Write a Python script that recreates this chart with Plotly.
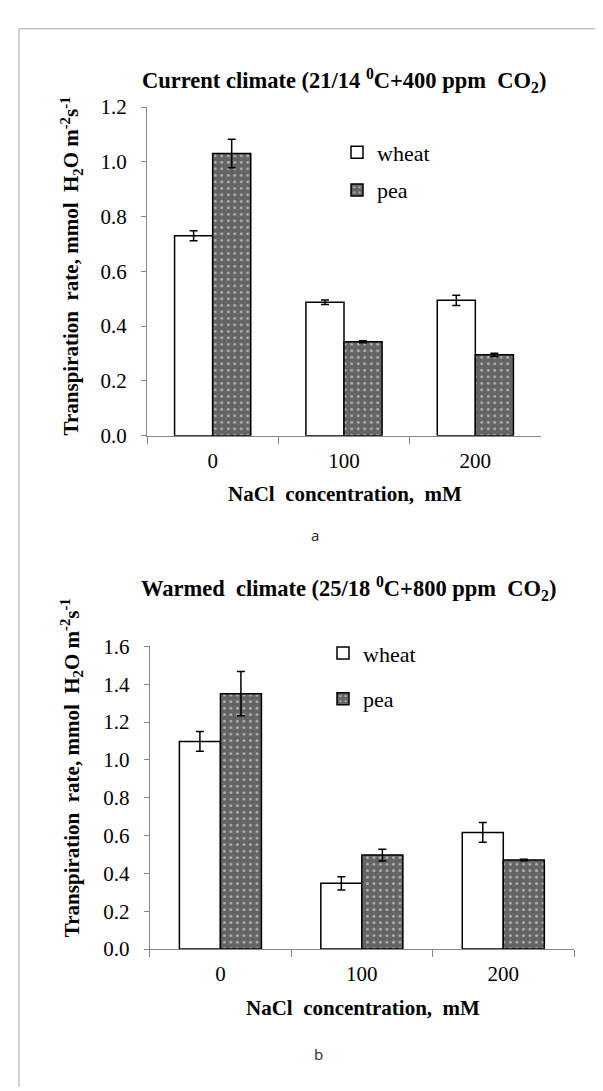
import plotly.graph_objects as go

# ---------------- data ----------------
categories = ["0", "100", "200"]

wheat_current = [0.73, 0.487, 0.494]
wheat_current_err = [0.018, 0.008, 0.019]
pea_current = [1.03, 0.343, 0.295]
pea_current_err = [0.052, 0.004, 0.006]

wheat_warm = [1.098, 0.348, 0.617]
wheat_warm_err = [0.052, 0.035, 0.052]
pea_warm = [1.35, 0.497, 0.471]
pea_warm_err = [0.117, 0.031, 0.004]

series_names = ["wheat", "pea"]
top_title = "Current climate (21/14 <sup>0</sup>C+400 ppm\u00a0\u00a0CO<sub>2</sub>)"
bottom_title = "Warmed\u00a0\u00a0climate (25/18 <sup>0</sup>C+800 ppm\u00a0\u00a0CO<sub>2</sub>)"
y_title = "Transpiration\u00a0\u00a0rate, mmol\u00a0\u00a0H<sub>2</sub>O m<sup>-2</sup>s<sup>-1</sup>"
x_title = "NaCl\u00a0\u00a0concentration,\u00a0\u00a0mM"

# ---------------- layout helpers ----------------
W, H = 603, 1091
def xp(px):
    return px / W
def yp(py):
    return 1 - py / H

SERIF = "Liberation Serif, Times New Roman, serif"
AX = "#868686"

fig = go.Figure()

wheat_style = dict(color="white", line=dict(color="black", width=1.5))
pea_style = dict(color="#666666", line=dict(color="black", width=1.5),
                 pattern=dict(shape=".", fgcolor="white", bgcolor="#646464",
                              size=6.5, solidity=0.16))
err_style = dict(type="data", color="black", thickness=1.5, width=4, visible=True)

# top chart
fig.add_trace(go.Bar(x=categories, y=wheat_current, name=series_names[0],
                     marker=wheat_style, error_y=dict(array=wheat_current_err, **err_style),
                     xaxis="x", yaxis="y", legend="legend", legendgroup="w1"))
fig.add_trace(go.Bar(x=categories, y=pea_current, name=series_names[1],
                     marker=pea_style, error_y=dict(array=pea_current_err, **err_style),
                     xaxis="x", yaxis="y", legend="legend", legendgroup="p1"))
# bottom chart
fig.add_trace(go.Bar(x=categories, y=wheat_warm, name=series_names[0],
                     marker=wheat_style, error_y=dict(array=wheat_warm_err, **err_style),
                     xaxis="x2", yaxis="y2", legend="legend2", legendgroup="w2"))
fig.add_trace(go.Bar(x=categories, y=pea_warm, name=series_names[1],
                     marker=pea_style, error_y=dict(array=pea_warm_err, **err_style),
                     xaxis="x2", yaxis="y2", legend="legend2", legendgroup="p2"))

xcommon = dict(type="category", showline=True, linecolor=AX, linewidth=1.2,
               ticks="outside", tickson="boundaries", ticklen=7, tickcolor=AX,
               tickwidth=1.2, showgrid=False, zeroline=False,
               tickfont=dict(family=SERIF, size=21, color="black"),
               ticklabelstandoff=6)
ycommon = dict(showline=True, linecolor=AX, linewidth=1.2, ticks="outside",
               ticklen=5, tickcolor=AX, tickwidth=1.2, showgrid=False,
               zeroline=False, tickformat=".1f", dtick=0.2, tick0=0,
               tickfont=dict(family=SERIF, size=21, color="black"),
               ticklabelstandoff=10)

fig.update_layout(
    width=W, height=H,
    margin=dict(l=0, r=0, t=0, b=0),
    paper_bgcolor="white", plot_bgcolor="white",
    barmode="group", bargap=0.42, bargroupgap=0,
    xaxis=dict(domain=[xp(139), xp(533)], anchor="y", **xcommon),
    yaxis=dict(domain=[yp(425), yp(89)], anchor="x", range=[0, 1.2], **ycommon),
    xaxis2=dict(domain=[xp(141.7), xp(566)], anchor="y2", **xcommon),
    yaxis2=dict(domain=[yp(950), yp(640.5)], anchor="x2", range=[0, 1.6], **ycommon),
    legend=dict(x=xp(329), y=yp(114), xanchor="left", yanchor="top",
                font=dict(family=SERIF, size=22, color="black"),
                bgcolor="rgba(0,0,0,0)", tracegroupgap=6, itemclick=False),
    legend2=dict(x=xp(315), y=yp(626), xanchor="left", yanchor="top",
                 font=dict(family=SERIF, size=22, color="black"),
                 bgcolor="rgba(0,0,0,0)", tracegroupgap=14, itemclick=False),
    showlegend=True,
)

ann = []
def add_text(text, x, y, size, bold=False, family=SERIF, angle=0, color="black"):
    ann.append(dict(text=("<b>%s</b>" % text) if bold else text,
                    x=xp(x), y=yp(y), xref="paper", yref="paper",
                    xanchor="center", yanchor="middle", showarrow=False,
                    textangle=angle, font=dict(family=family, size=size, color=color)))

add_text(top_title, 336, 62, 22.5, bold=True)
add_text(bottom_title, 340, 581, 22.5, bold=True)
add_text(y_title, 63, 252, 21, bold=True, angle=-90)
add_text(y_title, 63, 765, 21, bold=True, angle=-90)
add_text(x_title, 337, 485, 21, bold=True)
add_text(x_title, 355, 1010, 21, bold=True)
add_text("a", 307, 527, 15, family="Noto Sans, DejaVu Sans, sans-serif", color="#333333")
add_text("b", 310, 1057, 15, family="Noto Sans, DejaVu Sans, sans-serif", color="#333333")
fig.update_layout(annotations=ann)

# outer frame (left and top edges only)
fig.add_shape(type="line", xref="paper", yref="paper", x0=xp(11), x1=xp(11),
              y0=0, y1=yp(9), line=dict(color="#c4c4c4", width=1.5))
fig.add_shape(type="line", xref="paper", yref="paper", x0=xp(11), x1=1,
              y0=yp(9), y1=yp(9), line=dict(color="#c4c4c4", width=1.5))

fig.write_html("out.html")
